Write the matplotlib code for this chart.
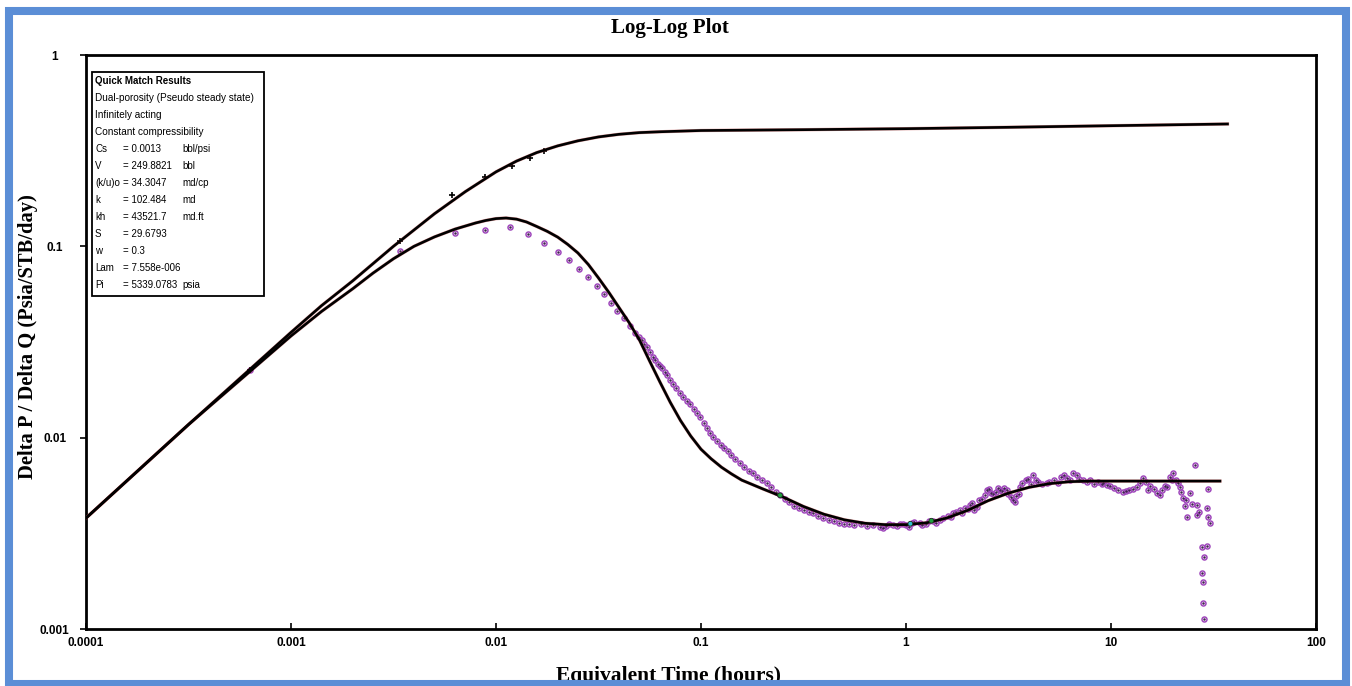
import matplotlib
matplotlib.use('Agg')
import matplotlib.pyplot as plt
from matplotlib.patches import Rectangle
from matplotlib.ticker import NullLocator

# ---------------- data ----------------
# model pressure-change curve (upper)
upper_x = [1e-4, 3.16e-4, 1e-3, 1.41e-3, 2e-3, 3.16e-3, 5.01e-3, 7.08e-3, 0.01, 0.0126, 0.0158,
           0.02, 0.0251, 0.0316, 0.0398, 0.0501, 0.0631, 0.1, 0.316, 1.0, 3.16, 10, 37]
upper_y = [0.0038, 0.0117, 0.0355, 0.049, 0.066, 0.100, 0.148, 0.193, 0.245, 0.279, 0.309,
           0.335, 0.356, 0.373, 0.385, 0.393, 0.397, 0.403, 0.407, 0.412, 0.419, 0.427, 0.436]

# model derivative curve (lower)
lower_x = [1e-4, 3.16e-4, 1e-3, 1.41e-3, 2e-3, 2.51e-3, 3.16e-3, 3.98e-3, 5.01e-3, 6.31e-3,
           7.94e-3, 8.91e-3, 0.01, 0.0112, 0.0126, 0.0141, 0.0158, 0.0178, 0.02, 0.0224, 0.0251,
           0.0282, 0.0316, 0.0355, 0.0398, 0.0447, 0.0501, 0.0562, 0.0631, 0.0708, 0.0794,
           0.0891, 0.1, 0.112, 0.126, 0.141, 0.158, 0.2, 0.251, 0.316, 0.398, 0.501, 0.631, 0.794,
           1.0, 1.26, 1.58, 2.0, 2.51, 3.16, 3.98, 5.01, 6.31, 7.94, 34.0]
lower_y = [0.0038, 0.0117, 0.034, 0.0457, 0.060, 0.0724, 0.0861, 0.100, 0.112, 0.123, 0.1324,
           0.1365, 0.1396, 0.1406, 0.1387, 0.134, 0.127, 0.1197, 0.1117, 0.1023, 0.0923, 0.0804,
           0.0684, 0.0575, 0.0479, 0.0398, 0.0324, 0.0251, 0.0195, 0.0153, 0.0123, 0.0102, 0.0087,
           0.00776, 0.0070, 0.00646, 0.0060, 0.0054, 0.0049, 0.00437, 0.00398, 0.00372, 0.00357,
           0.00351, 0.00351, 0.00359, 0.0038, 0.00417, 0.00468, 0.00513, 0.0055, 0.00575, 0.00589,
           0.00593, 0.00593]

# measured pressure-change points (upper)
up_pts_x = [0.00063, 0.0034, 0.0061, 0.00883, 0.01197, 0.01466, 0.0171]
up_pts_y = [0.0225, 0.1066, 0.185, 0.230, 0.263, 0.290, 0.315]

# measured derivative points (lower)
lo_pts_x = [0.00063, 0.0034, 0.0063, 0.0088, 0.0117, 0.0143, 0.0171, 0.0201, 0.0227, 0.0254, 0.0281,
            0.0311, 0.0337, 0.0364, 0.0389, 0.0421, 0.0450, 0.0476, 0.0500, 0.0515, 0.0530, 0.0545,
            0.0564, 0.0580, 0.0597, 0.0615, 0.0630, 0.0645, 0.0665, 0.0683, 0.0705, 0.0730, 0.0755,
            0.0790, 0.0817, 0.0850, 0.0884, 0.0920, 0.0955, 0.0989, 0.1030, 0.1070, 0.1110, 0.1150,
            0.1200, 0.1250, 0.1300, 0.1350, 0.1400, 0.1470, 0.1550, 0.1630, 0.1710, 0.1790, 0.1880,
            0.1980, 0.2100, 0.2200, 0.2310, 0.2430, 0.2560, 0.2700, 0.2850, 0.3000, 0.3180, 0.3350,
            0.3520, 0.3720, 0.3950, 0.4200, 0.4450, 0.4700, 0.5000, 0.5300, 0.5600, 0.6000, 0.6450,
            0.6900, 0.7460, 0.8000, 0.8600, 0.9350, 1.0000, 1.0700, 1.1700, 1.2500, 1.3500, 1.4700,
            1.6000, 1.7000, 1.8300, 1.9500, 2.0500, 2.2200, 2.3500, 2.4800, 2.6000, 2.7500, 2.8700,
            3.0000, 3.1500, 3.3300, 3.4500, 3.6000, 3.8500, 4.1700, 4.4000, 4.8800, 5.3000, 5.7000,
            6.1000, 6.5300, 7.0000, 7.6400, 8.3000, 9.1400, 9.5600, 10.300, 11.400, 12.300, 13.400,
            14.300, 15.500, 16.800, 17.800, 18.800, 20.100, 20.800, 21.700, 22.500, 23.000, 23.500,
            24.300, 24.800, 25.700, 26.300, 26.300, 26.800, 27.800, 28.300, 27.800, 28.000, 28.200,
            28.400, 29.400, 29.400, 29.700, 30.400, 29.700,
            0.77, 0.83, 0.90, 0.97, 1.03, 1.10, 1.20, 1.30, 1.40, 1.52, 1.65, 1.76, 1.88, 2.00,
            2.10, 2.15, 2.28, 2.42, 2.55, 2.65, 2.80, 2.95, 3.10, 3.25, 3.40, 3.55, 3.70, 3.95,
            4.05, 4.30, 4.60, 5.00, 5.50, 5.90, 6.30, 6.80, 7.30, 7.90, 8.60, 9.00, 9.90, 10.80,
            11.80, 12.80, 13.80, 14.80, 15.10, 16.20, 17.30, 18.30, 19.40, 19.80, 21.20, 22.00,
            23.20]
lo_pts_y = [0.0226, 0.095, 0.118, 0.122, 0.126, 0.116, 0.104, 0.0934, 0.0848, 0.076, 0.0691,
            0.0620, 0.0563, 0.0506, 0.0459, 0.0422, 0.0385, 0.0352, 0.0335, 0.0324, 0.0310, 0.0298,
            0.0280, 0.0265, 0.0255, 0.0243, 0.0236, 0.0230, 0.0220, 0.0212, 0.0200, 0.0191, 0.0181,
            0.0172, 0.0163, 0.0156, 0.0150, 0.0142, 0.0135, 0.0128, 0.0120, 0.0113, 0.0106, 0.0101,
            0.0096, 0.0092, 0.0088, 0.0085, 0.0081, 0.0077, 0.0074, 0.0070, 0.0067, 0.0065, 0.0062,
            0.0060, 0.0058, 0.0055, 0.0052, 0.0050, 0.0048, 0.0046, 0.0044, 0.0043, 0.0042, 0.0041,
            0.00405, 0.0039, 0.0038, 0.0037, 0.00365, 0.00358, 0.00352, 0.00355, 0.00348, 0.00352,
            0.00345, 0.00350, 0.00342, 0.00345, 0.00350, 0.00352, 0.00348, 0.00356, 0.00358, 0.00352,
            0.00368, 0.00371, 0.00390, 0.00402, 0.00419, 0.00430, 0.00445, 0.00434, 0.00480, 0.00532,
            0.00515, 0.00520, 0.00532, 0.00545, 0.00510, 0.00472, 0.00495, 0.00552, 0.00600, 0.00637,
            0.00590, 0.00579, 0.00600, 0.00620, 0.00615, 0.00653, 0.00610, 0.00586, 0.00575, 0.00579,
            0.00565, 0.00545, 0.00520, 0.00530, 0.00550, 0.00615, 0.00560, 0.00513, 0.00530, 0.00552,
            0.00653, 0.00600, 0.00552, 0.00483, 0.00440, 0.00385, 0.00513, 0.00450, 0.00719, 0.00445,
            0.00394, 0.00410, 0.00268, 0.00238, 0.00196, 0.00176, 0.00137, 0.00113, 0.00271, 0.00428,
            0.00385, 0.00358, 0.00539,
            0.00338, 0.00352, 0.00345, 0.00355, 0.00342, 0.00362, 0.00350, 0.00365, 0.00360, 0.00380,
            0.00385, 0.00410, 0.00405, 0.00425, 0.00455, 0.00420, 0.00470, 0.00500, 0.00540, 0.00505,
            0.00545, 0.00525, 0.00530, 0.00490, 0.00460, 0.00510, 0.00580, 0.00610, 0.00570, 0.00600,
            0.00575, 0.00590, 0.00580, 0.00640, 0.00600, 0.00640, 0.00600, 0.00600, 0.00585, 0.00570,
            0.00560, 0.00535, 0.00525, 0.00540, 0.00580, 0.00590, 0.00530, 0.00540, 0.00500, 0.00560,
            0.00620, 0.00600, 0.00580, 0.00520, 0.00470]

# a few highlighted points
hl_x = [0.243, 1.05, 1.33]
hl_y = [0.0050, 0.00355, 0.00368]
hl_c = ['#20a040', '#30c0d0', '#20a040']

x_ticks = [1e-4, 1e-3, 1e-2, 1e-1, 1, 10, 100]
x_tick_labels = ['0.0001', '0.001', '0.01', '0.1', '1', '10', '100']
y_ticks = [1e-3, 1e-2, 1e-1, 1]
y_tick_labels = ['0.001', '0.01', '0.1', '1']

results_title = 'Quick Match Results'
results_lines = ['Dual-porosity (Pseudo steady state)', 'Infinitely acting', 'Constant compressibility']
param_names = ['Cs', 'V', '(k/u)o', 'k', 'kh', 'S', 'w', 'Lam', 'Pi']
param_values = ['= 0.0013', '= 249.8821', '= 34.3047', '= 102.484', '= 43521.7', '= 29.6793',
                '= 0.3', '= 7.558e-006', '= 5339.0783']
param_units = ['bbl/psi', 'bbl', 'md/cp', 'md', 'md.ft', '', '', '', 'psia']

# ---------------- figure ----------------
W, H = 1352, 686
fig = plt.figure(figsize=(W / 100, H / 100), dpi=100)
fx = lambda px: px / W
fy = lambda py: 1 - py / H

ax = fig.add_axes([fx(86), fy(629), (1316 - 86) / W, (629 - 55) / H])
ax.set_xscale('log')
ax.set_yscale('log')
ax.set_xlim(1e-4, 100)
ax.set_ylim(1e-3, 1)

ax.plot(lo_pts_x, lo_pts_y, linestyle='none', marker='o', markersize=3.6,
        markerfacecolor='none', markeredgecolor='#a048bc', markeredgewidth=1.1, zorder=2)
ax.plot(lo_pts_x, lo_pts_y, linestyle='none', marker='.', markersize=1.6,
        color='#402050', zorder=2)
ax.plot(up_pts_x, up_pts_y, linestyle='none', marker='+', markersize=4.2,
        color='black', markeredgewidth=1.2, zorder=2)
ax.scatter(hl_x, hl_y, s=12, c=hl_c, edgecolors='#203020', linewidths=0.6, zorder=4)
ax.plot(upper_x, upper_y, color='#c04040', lw=2.4, zorder=3, alpha=0.5)
ax.plot(lower_x, lower_y, color='#c04040', lw=2.4, zorder=3, alpha=0.5)
ax.plot(upper_x, upper_y, color='black', lw=1.9, zorder=3)
ax.plot(lower_x, lower_y, color='black', lw=1.9, zorder=3)

ax.set_xticks(x_ticks)
ax.set_xticklabels(x_tick_labels)
ax.set_yticks(y_ticks)
ax.set_yticklabels(y_tick_labels)
ax.xaxis.set_minor_locator(NullLocator())
ax.yaxis.set_minor_locator(NullLocator())
for sp in ax.spines.values():
    sp.set_linewidth(2)
    sp.set_color('black')
ax.tick_params(axis='x', direction='in', length=4, width=1.2, pad=6)
ax.tick_params(axis='y', direction='out', length=4, width=1.2, pad=18.5)
for lab in ax.get_xticklabels() + ax.get_yticklabels():
    lab.set_fontfamily('Liberation Sans')
    lab.set_fontweight('bold')
    lab.set_fontsize(8.5)
for lab in ax.get_yticklabels():
    lab.set_horizontalalignment('center')

# title and axis labels
fig.text(fx(670), fy(28), 'Log-Log Plot', ha='center', va='center', fontsize=15,
         fontfamily='Liberation Serif', fontweight='bold')
fig.text(fx(668), fy(676), 'Equivalent Time (hours)', ha='center', va='center', fontsize=15.5,
         fontfamily='Liberation Serif', fontweight='bold')
fig.text(fx(28), fy(337), 'Delta P / Delta Q (Psia/STB/day)', ha='center', va='center',
         rotation=90, fontsize=14.8, fontfamily='Liberation Serif', fontweight='bold')

# results box
fig.patches.append(Rectangle((fx(92), fy(296)), (264 - 92) / W, (296 - 72) / H,
                             transform=fig.transFigure, facecolor='white', edgecolor='black',
                             linewidth=1.3, zorder=5))
row_y = 81
step = 17.0
fs = 7.0
fig.text(fx(95), fy(row_y), results_title, ha='left', va='center', fontsize=fs,
         fontfamily='Liberation Sans', fontweight='bold', zorder=6)
for i, line in enumerate(results_lines):
    fig.text(fx(95), fy(row_y + step * (i + 1)), line, ha='left', va='center', fontsize=fs + 0.2,
             fontfamily='Liberation Sans', zorder=6)
for j, (n, v, u) in enumerate(zip(param_names, param_values, param_units)):
    yy = fy(row_y + step * (j + 4))
    fig.text(fx(95), yy, n, ha='left', va='center', fontsize=fs, fontfamily='Liberation Sans', zorder=6)
    fig.text(fx(123), yy, v, ha='left', va='center', fontsize=fs, fontfamily='Liberation Sans', zorder=6)
    if u:
        fig.text(fx(182), yy, u, ha='left', va='center', fontsize=fs, fontfamily='Liberation Sans', zorder=6)

# blue frame
fig.patches.append(Rectangle((fx(9), fy(684)), (1346 - 9) / W, (684 - 11) / H,
                             transform=fig.transFigure, fill=False, edgecolor='#5b8ed6',
                             linewidth=5.8, zorder=10))

fig.savefig('out.png', dpi=100)
